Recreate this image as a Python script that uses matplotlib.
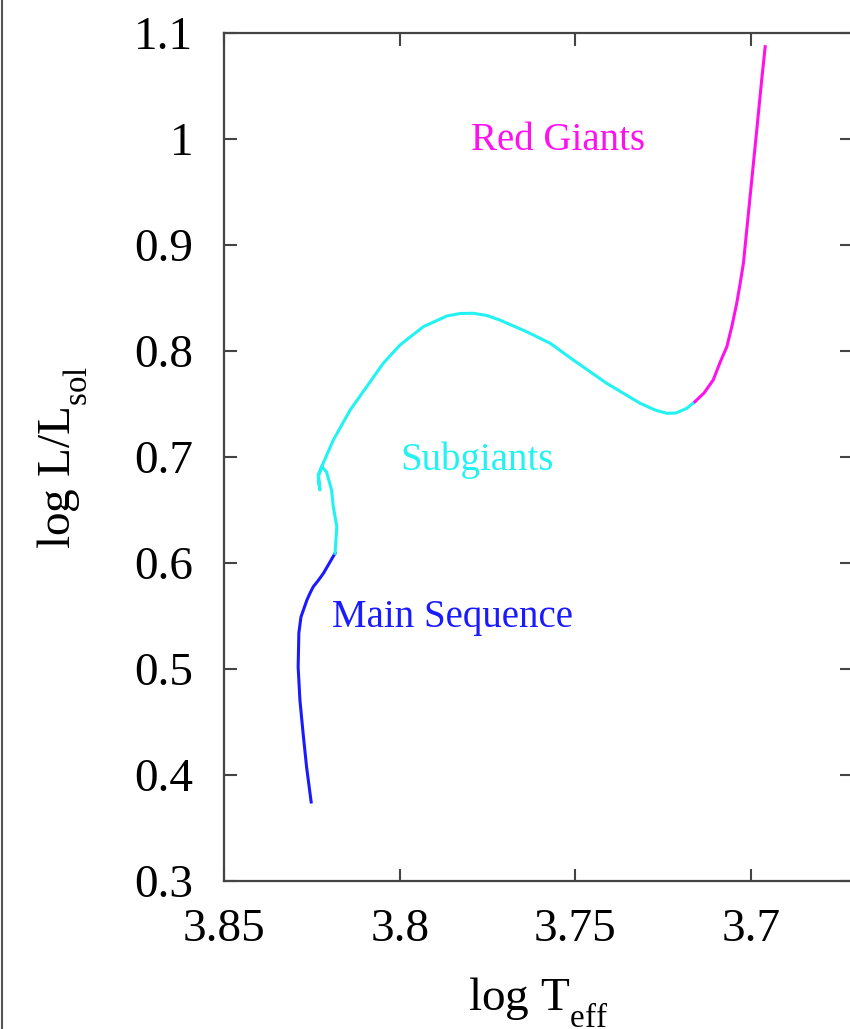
import matplotlib
matplotlib.use("Agg")
import matplotlib.pyplot as plt
from matplotlib.lines import Line2D
from matplotlib import _mathtext

plt.rcParams['font.family'] = ['Liberation Serif', 'DejaVu Serif']
plt.rcParams['mathtext.fontset'] = 'custom'
plt.rcParams['mathtext.rm'] = 'Liberation Serif'
plt.rcParams['mathtext.it'] = 'Liberation Serif:italic'
# gnuplot-like subscripts sit lower than matplotlib's default
_mathtext.FontConstantsBase.subdrop = 0.85
_mathtext.FontConstantsBase.sub1 = 0.85

# evolutionary track (log Teff, log L/Lsol)
ms_teff = [3.8252, 3.8265, 3.8275, 3.8284, 3.8289, 3.8287, 3.8281, 3.8264,
           3.8255, 3.8246, 3.8233, 3.8217, 3.8184]
ms_lum = [0.3745, 0.4075, 0.4396, 0.4708, 0.5019, 0.5340, 0.5491, 0.5651,
          0.5717, 0.5776, 0.5830, 0.5903, 0.6092]

sg_teff = [3.8184, 3.8179, 3.8189, 3.8194, 3.8208, 3.8222, 3.8232, 3.8230,
           3.8227, 3.8231, 3.8222, 3.8189, 3.8141, 3.8094, 3.8047, 3.7999,
           3.7933, 3.7866, 3.7828, 3.7791, 3.7752, 3.7715, 3.7639, 3.7572,
           3.7506, 3.7411, 3.7316, 3.7273, 3.7240, 3.7214, 3.7183, 3.7160]
sg_lum = [0.6092, 0.6342, 0.6531, 0.6689, 0.6858, 0.6908, 0.6830, 0.6745,
          0.6689, 0.6820, 0.6908, 0.7160, 0.7443, 0.7663, 0.7884, 0.8057,
          0.8229, 0.8330, 0.8354, 0.8356, 0.8335, 0.8292, 0.8182, 0.8073,
          0.7915, 0.7695, 0.7507, 0.7443, 0.7412, 0.7415, 0.7459, 0.7522]

rg_teff = [3.7160, 3.7134, 3.7108, 3.7088, 3.7069, 3.7054, 3.7041, 3.7031,
           3.7022, 3.7003, 3.6984, 3.6970, 3.6960]
rg_lum = [0.7522, 0.7604, 0.7726, 0.7896, 0.8041, 0.8245, 0.8450, 0.8642,
          0.8827, 0.9456, 1.0085, 1.0557, 1.0871]

x_ticks = [3.85, 3.8, 3.75, 3.7]
x_labels = ['3.85', '3.8', '3.75', '3.7']
y_ticks = [0.3, 0.4, 0.5, 0.6, 0.7, 0.8, 0.9, 1.0, 1.1]
y_labels = ['0.3', '0.4', '0.5', '0.6', '0.7', '0.8', '0.9', '1', '1.1']

blue = '#1a1aff'
cyan = '#22f2f2'
magenta = '#ff11ee'

fig = plt.figure(figsize=(8.5, 10.29), dpi=100)
ax = fig.add_axes([224 / 850, 148 / 1029, 628 / 850, 848 / 1029])

ax.plot(ms_teff, ms_lum, color=blue, lw=2.2, solid_joinstyle='round')
ax.plot(sg_teff, sg_lum, color=cyan, lw=2.2, solid_joinstyle='round')
ax.plot(rg_teff, rg_lum, color=magenta, lw=2.2, solid_joinstyle='round')

ax.text(3.7550, 0.999, 'Red Giants', color=magenta, fontsize=28,
        ha='center', va='center')
ax.text(3.7779, 0.697, 'Subgiants', color=cyan, fontsize=28,
        ha='center', va='center')
ax.text(3.7851, 0.549, 'Main Sequence', color=blue, fontsize=28,
        ha='center', va='center')

ax.set_xlim(3.85, 3.6713)
ax.set_ylim(0.3, 1.1)
ax.set_xticks(x_ticks)
ax.set_xticklabels(x_labels)
ax.set_yticks(y_ticks)
ax.set_yticklabels(y_labels)
ax.tick_params(direction='in', top=True, right=True, length=9, width=1.5,
               color='#444444', labelsize=34)
ax.tick_params(axis='x', pad=20)
ax.tick_params(axis='y', pad=22)
for sp in ax.spines.values():
    sp.set_linewidth(1.6)
    sp.set_color('#444444')

ax.set_xlabel(r'log T$_{\rm eff}$', fontsize=34, labelpad=17)
ax.set_ylabel(r'log L/L$_{\rm sol}$', fontsize=34, labelpad=32)

# thin border at the left edge of the picture
fig.add_artist(Line2D([0.002, 0.002], [0, 1], transform=fig.transFigure,
                      color='#555555', lw=1.5))

fig.savefig('out.png', dpi=100)
